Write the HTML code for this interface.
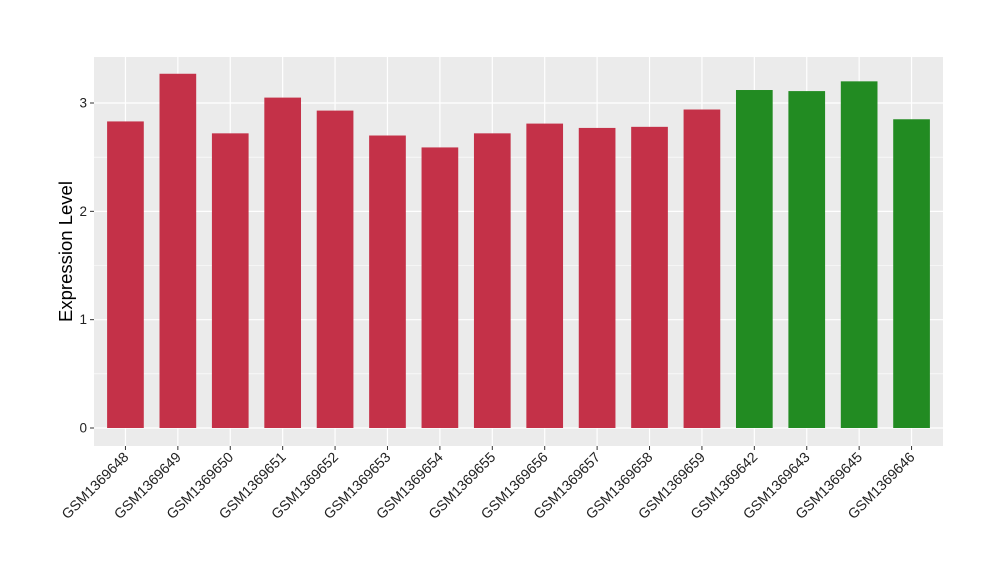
<!DOCTYPE html>
<html><head><meta charset="utf-8"><style>
body{margin:0;background:#fff;}
svg{display:block;font-family:"Liberation Sans",Arial,sans-serif;}
</style></head><body>
<svg id="chart" width="1000" height="580"></svg>
<script>
const categories=["GSM1369648","GSM1369649","GSM1369650","GSM1369651","GSM1369652","GSM1369653","GSM1369654","GSM1369655","GSM1369656","GSM1369657","GSM1369658","GSM1369659","GSM1369642","GSM1369643","GSM1369645","GSM1369646"];
const values=[2.83,3.27,2.72,3.05,2.93,2.70,2.59,2.72,2.81,2.77,2.78,2.94,3.12,3.11,3.20,2.85];
const groups=["a","a","a","a","a","a","a","a","a","a","a","a","b","b","b","b"];
const yTicks=[0,1,2,3];
const colors={a:"#C43148",b:"#228B22"};
const NS="http://www.w3.org/2000/svg";
const svg=document.getElementById('chart');
const L=94,R=943,T=57,B=446;
const y0=428,yUnit=108.33;
const y=v=>y0-v*yUnit;
const step=(R-L)/(categories.length-1+1.2);
const x=i=>L+step*(0.6+i);
function mk(t,a,p){const e=document.createElementNS(NS,t);for(const k in a)e.setAttribute(k,a[k]);(p||svg).appendChild(e);return e;}
const bg=mk('rect',{x:L,y:T,width:R-L,height:B-T,fill:'#EBEBEB'});


for(let v=0.5;v<3.6;v+=1){const g=mk('line',{x1:L,x2:R,y1:y(v),y2:y(v),stroke:'#fff','stroke-width':0.6});

}
yTicks.forEach(v=>{const g=mk('line',{x1:L,x2:R,y1:y(v),y2:y(v),stroke:'#fff','stroke-width':1.2});


const tk=mk('line',{x1:L-4,x2:L,y1:y(v),y2:y(v),stroke:'#333','stroke-width':1});


const t=mk('text',{x:L-7,y:y(v)+4.5,'text-anchor':'end','font-size':13.5,fill:'#222'});t.textContent=v;

});
categories.forEach((c,i)=>{const g=mk('line',{x1:x(i),x2:x(i),y1:T,y2:B,stroke:'#fff','stroke-width':1.2});

});
const bw=step*0.7;
categories.forEach((c,i)=>{const r=mk('rect',{x:x(i)-bw/2,y:y(values[i]),width:bw,height:y(0)-y(values[i]),fill:colors[groups[i]]});


const tk=mk('line',{x1:x(i),x2:x(i),y1:B,y2:B+4,stroke:'#333','stroke-width':1});


const t=mk('text',{x:x(i)+4,y:B+12,'text-anchor':'end','font-size':14.2,fill:'#222',transform:`rotate(-45 ${x(i)+4} ${B+12})`});t.textContent=c;

});
const yt=mk('text',{x:72,y:(T+B)/2,'text-anchor':'middle','font-size':18.5,fill:'#000',transform:`rotate(-90 72 ${(T+B)/2})`});yt.textContent='Expression Level';


</script>
</body></html>
